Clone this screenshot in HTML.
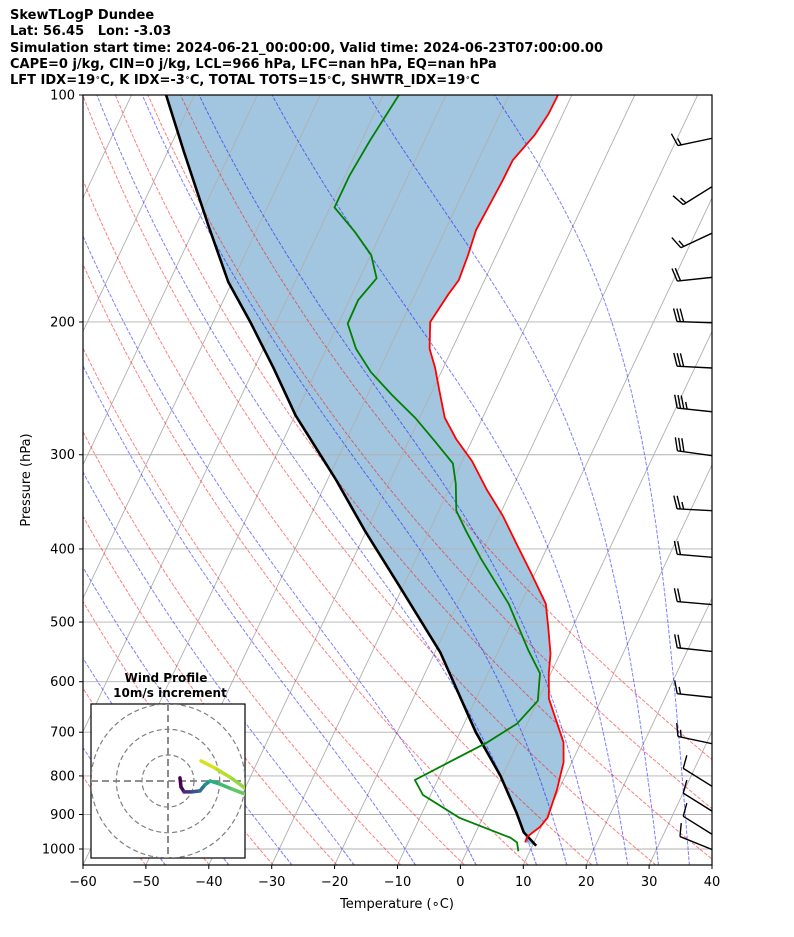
<!DOCTYPE html>
<html><head><meta charset="utf-8">
<style>
body{margin:0;background:#fff;}
#wrap{position:relative;width:794px;height:937px;overflow:hidden;font-family:"DejaVu Sans","Liberation Sans",sans-serif;}
.hdr{position:absolute;left:10px;font-size:13px;font-weight:bold;white-space:pre;line-height:16px;color:#000;}
sup{font-size:8px;vertical-align:4px;line-height:0;}
</style></head>
<body>
<div id="wrap">
<div class="hdr" style="top:8px">SkewTLogP Dundee</div>
<div class="hdr" style="top:24px">Lat: 56.45   Lon: -3.03</div>
<div class="hdr" style="top:41px">Simulation start time: 2024-06-21_00:00:00, Valid time: 2024-06-23T07:00:00.00</div>
<div class="hdr" style="top:57px">CAPE=0 j/kg, CIN=0 j/kg, LCL=966 hPa, LFC=nan hPa, EQ=nan hPa</div>
<div class="hdr" style="top:73px">LFT IDX=19<sup>∘</sup>C, K IDX=-3<sup>∘</sup>C, TOTAL TOTS=15<sup>∘</sup>C, SHWTR_IDX=19<sup>∘</sup>C</div>
<svg id="svg" width="794" height="937" style="position:absolute;left:0;top:0" xmlns="http://www.w3.org/2000/svg">
<defs><clipPath id="pc"><rect x="83" y="95" width="629" height="770"/></clipPath>
<clipPath id="hc"><rect x="91" y="704" width="154" height="154"/></clipPath></defs>
<g id="bg" clip-path="url(#pc)"></g>
<g id="fg"></g>
</svg>
</div>
<script>
// ---- data ----
const tempP = [980,963,935,909,834,767,722,632,585,551,509,473,430,395,361,334,306,286,268,246,230,217,200,184,176,163,151,138,130,122,113,106,100];
const tempT = [8.6,8.5,9.8,10.3,9.7,8.7,7.2,1.6,-0.3,-1.5,-3.8,-6.0,-10.7,-15.0,-19.5,-23.9,-28.4,-32.6,-36.0,-39.0,-41.3,-43.6,-45.5,-44.7,-44.1,-44.5,-45.1,-44.8,-44.6,-44.5,-42.9,-42.3,-42.2];
const dewP = [1007,980,966,909,848,810,766,722,682,636,585,545,473,412,379,356,328,308,288,268,250,233,217,201,187,175,163,152,141,128,115,100];
const dewT = [8.2,7.3,5.9,-3.7,-11.2,-13.6,-9.4,-4.9,-1.6,0,-1.7,-5.3,-11.9,-19.7,-24.1,-27.2,-29.3,-31.3,-35.8,-40.7,-46.1,-51.2,-55.3,-58.5,-58.6,-57.3,-59.9,-64.2,-69.3,-69.3,-68.7,-67.5];
const parcelP = [990,950,895,800,700,549,448,378,323,266,230,200,177,149,119,100];
const parcelT = [10.6,7.6,5.0,-0.3,-7.5,-19.1,-30.6,-40.3,-48.8,-59.9,-67.0,-74.1,-80.6,-88.0,-97.4,-104.5];
const xTicks = [-60,-50,-40,-30,-20,-10,0,10,20,30,40];
const yTicks = [100,200,300,400,500,600,700,800,900,1000];
const dryTheta = [200,210,220,230,240,250,260,270,280,290,300,310,320,330];
const moistT0 = [-50,-40,-30,-20,-10,0,10,15,20,25,30,35];
const barbP = [113.7,130.8,151.2,174.2,200.6,230.4,263.6,301.6,356.2,411,474.8,548,630.6,727.8,835.4,901,967,1009];
const barbSpd = [15,15,15,20,30,30,35,30,25,20,20,20,15,15,10,10,10,10];
const barbDir = [258,238,245,264,272,273,276,278,273,275,275,276,276,282,302,302,302,292];
const hodoU = [4.6,5,6.2,9.2,12.3,14.2,16.2,20,24.6,29.6,33.5,29.6,23.8,18,12.7];
const hodoV = [1.2,-2.3,-4.2,-4.2,-3.8,-1.5,0,-1.2,-3.1,-5,-4.2,-2.7,1.5,5,7.7];
// ---- axes ----
const NS="http://www.w3.org/2000/svg";
const yOf=p=>95+754*Math.log10(p/100);
const xOf=(T,p)=>83+(T+60)*6.29+0.4715*(865-yOf(p));
const bg=document.getElementById('bg'), fg=document.getElementById('fg');
function el(tag,attrs,parent){const e=document.createElementNS(NS,tag);for(const k in attrs)e.setAttribute(k,attrs[k]);parent.appendChild(e);return e;}
function ptsStr(P,T){return P.map((p,i)=>xOf(T[i],p).toFixed(1)+','+yOf(p).toFixed(1)).join(' ');}
const pres=[];for(let p=1050;p>=100;p-=10)pres.push(p);
const Rd=287.04,Cp=1005.7,Lv=2.501e6,eps=0.622;
function rs(Tk,p){const tc=Tk-273.15;const es=6.112*Math.exp(17.67*tc/(tc+243.5));return eps*es/(p-es);}
function dTdp(Tk,p){const r=rs(Tk,p);return (Rd*Tk+Lv*r)/(p*(Cp+Lv*Lv*r*eps/(Rd*Tk*Tk)));}
function moist(T0c,p0,pEnd){const out=[[p0,T0c]];let T=T0c+273.15,p=p0;const n=200,h=(pEnd-p0)/n;
 for(let i=0;i<n;i++){const k1=dTdp(T,p),k2=dTdp(T+h*k1/2,p+h/2),k3=dTdp(T+h*k2/2,p+h/2),k4=dTdp(T+h*k3,p+h);T+=h*(k1+2*k2+2*k3+k4)/6;p+=h;out.push([p,T-273.15]);}
 return out;}
// fill
{const a=tempP.map((p,i)=>xOf(tempT[i],p).toFixed(1)+','+yOf(p).toFixed(1));
 const b=[];for(let j=parcelP.length-1;j>=0;j--)b.push(xOf(parcelT[j],parcelP[j]).toFixed(1)+','+yOf(parcelP[j]).toFixed(1));
 const f=el('polygon',{points:a.concat(b).join(' '),fill:'#a2c6df',stroke:'none'},bg);
 }
// isotherms
for(let T=-170;T<=40;T+=10){const l=el('line',{x1:xOf(T,1050),y1:865,x2:xOf(T,100),y2:95,stroke:'#b0b0b0','stroke-width':0.9},bg);
 }
yTicks.forEach(p=>{const l=el('line',{x1:83,x2:712,y1:yOf(p),y2:yOf(p),stroke:'#b0b0b0','stroke-width':0.9},bg);
 });
dryTheta.forEach(th=>{const T=pres.map(p=>th*Math.pow(p/1000,0.2857)-273.15);
 const l=el('polyline',{points:ptsStr(pres,T),fill:'none',stroke:'rgba(255,0,0,0.5)','stroke-width':1,'stroke-dasharray':'3.7,1.6'},bg);
 });
moistT0.forEach(t0=>{const up=moist(t0,1000,100),dn=moist(t0,1000,1050);const all=dn.reverse().concat(up);
 const l=el('polyline',{points:all.map(q=>xOf(q[1],q[0]).toFixed(1)+','+yOf(q[0]).toFixed(1)).join(' '),fill:'none',stroke:'rgba(0,0,255,0.5)','stroke-width':1,'stroke-dasharray':'3.7,1.6'},bg);
 });
// profiles
{const l=el('polyline',{points:ptsStr(parcelP,parcelT),fill:'none',stroke:'#000','stroke-width':2.6,'stroke-linejoin':'round'},bg);
 }
{const l=el('polyline',{points:ptsStr(tempP,tempT),fill:'none',stroke:'#ff0000','stroke-width':1.8},bg);
 }
{const l=el('polyline',{points:ptsStr(dewP,dewT),fill:'none',stroke:'#008000','stroke-width':1.8},bg);
 }
// barbs
barbP.forEach((p,i)=>{const by=yOf(p),bx=718;const ang=barbDir[i]*Math.PI/180;
 const ux=Math.sin(ang),uy=-Math.cos(ang);
 const L=41;const tipx=bx+ux*L,tipy=by+uy*L;
 const g=el('g',{'clip-path':'url(#pc)'},fg);
 
 el('line',{x1:tipx,y1:tipy,x2:bx,y2:by,stroke:'#000','stroke-width':1.4},g);
 const px=-uy,py=ux;
 let s=barbSpd[i],k=0;
 while(s>=4.9){const full=s>=9.9;const len=full?13:7;const ox=tipx-ux*k*3.3,oy=tipy-uy*k*3.3;
  el('line',{x1:ox,y1:oy,x2:ox+px*len+ux*len*0.3,y2:oy+py*len+uy*len*0.3,stroke:'#000','stroke-width':1.4},g);
  s-=(full?10:5);k++;}
});
// axes frame & ticks
{const r=el('rect',{x:83,y:95,width:629,height:770,fill:'none',stroke:'#000','stroke-width':1.2},fg);}
xTicks.forEach(t=>{const x=83+(t+60)*6.29;el('line',{x1:x,x2:x,y1:865,y2:869,stroke:'#000'},fg);
 const tx=el('text',{x:x,y:886,'text-anchor':'middle','font-size':13,'font-family':'DejaVu Sans, Liberation Sans, sans-serif'},fg);tx.textContent=(t<0?'\u2212'+(-t):t);
 });
yTicks.forEach(p=>{const y=yOf(p);el('line',{x1:79,x2:83,y1:y,y2:y,stroke:'#000'},fg);
 const tx=el('text',{x:75,y:y+4.5,'text-anchor':'end','font-size':13,'font-family':'DejaVu Sans, Liberation Sans, sans-serif'},fg);tx.textContent=p;
 });
{const t=el('text',{x:397,y:908,'text-anchor':'middle','font-size':13,'font-family':'DejaVu Sans, Liberation Sans, sans-serif'},fg);t.textContent='Temperature (\u2218C)';
 }
{const t=el('text',{x:30,y:480,'text-anchor':'middle','font-size':13,transform:'rotate(-90 30 480)','font-family':'DejaVu Sans, Liberation Sans, sans-serif'},fg);t.textContent='Pressure (hPa)';
 }
// hodograph inset
{const g=el('g',{},fg);
 el('rect',{x:91,y:704,width:154,height:154,fill:'#fff',stroke:'#000','stroke-width':1.2},g);
 const cx=168,cy=781,sc=2.6;
 [26,51.7,77].forEach(r=>el('circle',{cx:cx,cy:cy,r:r,fill:'none',stroke:'#808080','stroke-width':1.2,'stroke-dasharray':'5,3','clip-path':'url(#hc)'},g));
 el('line',{x1:91,x2:245,y1:cy,y2:cy,stroke:'#808080','stroke-width':1.8,'stroke-dasharray':'7,4'},g);
 el('line',{x1:cx,x2:cx,y1:704,y2:858,stroke:'#808080','stroke-width':1.8,'stroke-dasharray':'7,4'},g);
 const cols=['#440154','#46085c','#472d7b','#3b528b','#2c728e','#21918c','#28ae80','#3fbc73','#5ec962','#7ad151','#84d44b','#95d840','#b5de2b','#d8e219','#fde725'];
 for(let i=0;i<hodoU.length-1;i++){const s=el('line',{x1:cx+hodoU[i]*sc,y1:cy-hodoV[i]*sc,x2:cx+hodoU[i+1]*sc,y2:cy-hodoV[i+1]*sc,stroke:cols[i],'stroke-width':3.5,'stroke-linecap':'round','clip-path':'url(#hc)'},g);
  }
 const t1=el('text',{x:166,y:682,'text-anchor':'middle','font-size':12,'font-weight':'bold','font-family':'DejaVu Sans, Liberation Sans, sans-serif'},g);t1.textContent='Wind Profile';
 
 const t2=el('text',{x:170,y:697,'text-anchor':'middle','font-size':12,'font-weight':'bold','font-family':'DejaVu Sans, Liberation Sans, sans-serif'},g);t2.textContent='10m/s increment';
 }
</script>
</body></html>
